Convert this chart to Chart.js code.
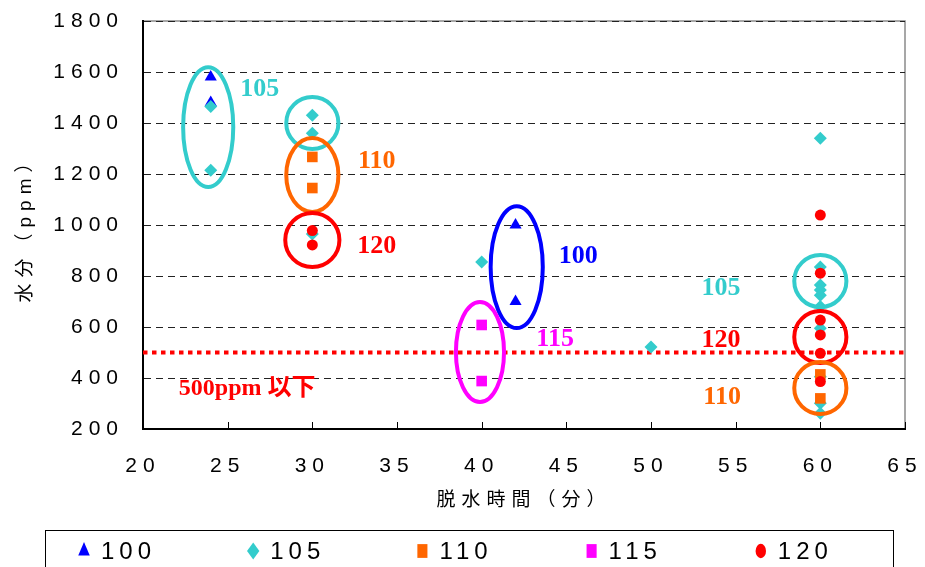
<!DOCTYPE html>
<html>
<head>
<meta charset="utf-8">
<script src="https://cdn.jsdelivr.net/npm/chart.js@4/dist/chart.umd.min.js"></script>
<style>
  html, body { margin: 0; padding: 0; background: #fff; }
  canvas { display: block; }
</style>
</head>
<body>
<canvas id="c" width="925" height="567"></canvas>
<script>
// ---- measured moisture by dehydration temperature series ----
const seriesNames = ['100', '105', '110', '115', '120'];

const x100 = [24, 24, 42, 42];
const y100 = [1580, 1480, 1000, 700];

const x105 = [24, 24, 30, 30, 30, 40, 50, 60, 60, 60, 60, 60, 60, 60, 60, 60, 60];
const y105 = [1465, 1215, 1430, 1360, 965, 855, 522, 1340, 835, 765, 745, 725, 680, 595, 405, 301, 262];

const x110 = [30, 30, 60, 60];
const y110 = [1267, 1145, 414, 320];

const x115 = [40, 40];
const y115 = [608, 388];

const x120 = [30, 30, 60, 60, 60, 60, 60, 60];
const y120 = [978, 922, 1039, 811, 627, 569, 497, 386];

// axis ticks
const xTicks = [20, 25, 30, 35, 40, 45, 50, 55, 60, 65];
const yTicks = [200, 400, 600, 800, 1000, 1200, 1400, 1600, 1800];

// target limit
const limitPpm = 500;
const limitLabel = '500ppm 以下';
const limitLabelX = 26.15;
const limitLabelY = 357;

// rings grouping points of one series (centre and half extents in axis units)
const ringX = [23.85, 30, 30, 30, 42.07, 39.9, 60, 60, 60];
const ringY = [1384, 1400, 1196, 941, 835, 502, 780, 561, 361];
const ringHalfW = [1.48, 1.54, 1.54, 1.6, 1.54, 1.42, 1.54, 1.54, 1.54];
const ringHalfH = [235, 102, 145, 106, 239, 196, 102, 102, 102];
const ringSeries = [1, 1, 2, 4, 0, 3, 1, 4, 2];

// series name tags next to the rings
const tagX = [26.9, 33.8, 33.8, 45.7, 44.34, 54.14, 54.14, 54.2];
const tagY = [1533, 1251, 918, 878, 553, 753, 549, 325];
const tagSeries = [1, 2, 4, 0, 3, 1, 4, 2];

// ---- styles ----
const colors = ['#0000FF', '#33CCCC', '#FF6600', '#FF00FF', '#FF0000'];
const markers = ['triangle', 'rectRot', 'rect', 'rect', 'circle'];
const markerRadius = [7, 6.5, 7.5, 7.5, 5.5];
const sansFamily = '"Liberation Sans", Arial, "Noto Sans CJK JP", sans-serif';
const serifFamily = '"Liberation Serif", "Times New Roman", "Noto Sans CJK JP", serif';
const SPACING = '6px';

const xs = [x100, x105, x110, x115, x120];
const ys = [y100, y105, y110, y115, y120];

const datasets = seriesNames.map((name, i) => ({
  label: name,
  data: xs[i].map((x, k) => ({ x: x, y: ys[i][k] })),
  pointStyle: markers[i],
  pointRadius: markerRadius[i],
  pointHoverRadius: markerRadius[i],
  backgroundColor: colors[i],
  borderColor: colors[i],
  borderWidth: 0,
  showLine: false,
  order: seriesNames.length - i
}));

function setSpacing(ctx, v) {
  if ('letterSpacing' in ctx) ctx.letterSpacing = v;
}

function drawMarker(ctx, style, r, x, y) {
  ctx.beginPath();
  if (style === 'triangle') {
    ctx.moveTo(x, y - r);
    ctx.lineTo(x + r * Math.sin(2 * Math.PI / 3), y + r * 0.5);
    ctx.lineTo(x - r * Math.sin(2 * Math.PI / 3), y + r * 0.5);
    ctx.closePath();
  } else if (style === 'rectRot') {
    ctx.moveTo(x - r, y); ctx.lineTo(x, y - r); ctx.lineTo(x + r, y); ctx.lineTo(x, y + r);
    ctx.closePath();
  } else if (style === 'rect') {
    const s = Math.SQRT1_2 * r;
    ctx.rect(x - s, y - s, 2 * s, 2 * s);
  } else {
    ctx.arc(x, y, r, 0, Math.PI * 2);
  }
  ctx.fill();
}

const decor = {
  id: 'decor',
  beforeUpdate(chart) { setSpacing(chart.ctx, SPACING); },
  beforeLayout(chart) { setSpacing(chart.ctx, SPACING); },
  beforeDraw(chart) {
    const { ctx, chartArea: a } = chart;
    setSpacing(ctx, SPACING);
    // light frame on top and right of the plot
    ctx.save();
    ctx.strokeStyle = '#8a8a8a';
    ctx.lineWidth = 1.5;
    ctx.beginPath();
    ctx.moveTo(a.left, a.top);
    ctx.lineTo(a.right, a.top);
    ctx.lineTo(a.right, a.bottom);
    ctx.stroke();
    ctx.restore();
  },
  beforeDatasetsDraw(chart) {
    const { ctx, chartArea: a, scales: { x, y } } = chart;
    ctx.save();
    // inward tick marks on the time axis
    ctx.strokeStyle = '#000';
    ctx.lineWidth = 1;
    xTicks.forEach(v => {
      const px = Math.round(x.getPixelForValue(v)) + 0.5;
      ctx.beginPath();
      ctx.moveTo(px, a.bottom);
      ctx.lineTo(px, a.bottom - 7);
      ctx.stroke();
    });
    // 500 ppm limit
    const py = y.getPixelForValue(limitPpm);
    ctx.strokeStyle = '#FF0000';
    ctx.lineWidth = 4;
    ctx.setLineDash([4.5, 4.5]);
    ctx.beginPath();
    ctx.moveTo(a.left, py);
    ctx.lineTo(a.right, py);
    ctx.stroke();
    ctx.restore();
  },
  afterDatasetsDraw(chart) {
    const { ctx, scales: { x, y } } = chart;
    ctx.save();
    ctx.lineWidth = 4;
    ringX.forEach((cx, i) => {
      const px = x.getPixelForValue(cx);
      const py = y.getPixelForValue(ringY[i]);
      const rx = Math.abs(x.getPixelForValue(cx + ringHalfW[i]) - px);
      const ry = Math.abs(y.getPixelForValue(ringY[i] + ringHalfH[i]) - py);
      ctx.strokeStyle = colors[ringSeries[i]];
      ctx.beginPath();
      ctx.ellipse(px, py, rx, ry, 0, 0, Math.PI * 2);
      ctx.stroke();
    });
    setSpacing(ctx, '0px');
    ctx.textAlign = 'center';
    ctx.textBaseline = 'middle';
    ctx.font = 'bold 26px ' + serifFamily;
    tagX.forEach((tx, i) => {
      ctx.fillStyle = colors[tagSeries[i]];
      ctx.fillText(seriesNames[tagSeries[i]], x.getPixelForValue(tx), y.getPixelForValue(tagY[i]));
    });
    ctx.font = 'bold 24px ' + serifFamily;
    ctx.fillStyle = '#FF0000';
    ctx.fillText(limitLabel, x.getPixelForValue(limitLabelX), y.getPixelForValue(limitLabelY));
    ctx.restore();
    setSpacing(ctx, SPACING);
  },
  afterDraw(chart) {
    const { ctx } = chart;
    ctx.save();
    // legend frame
    ctx.strokeStyle = '#000';
    ctx.lineWidth = 1;
    ctx.strokeRect(45.5, 530.5, 848, 60);
    const cy = 551;
    ctx.font = '24px ' + sansFamily;
    ctx.textAlign = 'left';
    ctx.textBaseline = 'middle';
    setSpacing(ctx, '5px');
    seriesNames.forEach((name, i) => {
      const mx = 84 + i * 169.2;
      ctx.fillStyle = colors[i];
      ctx.save();
      ctx.translate(mx, cy);
      ctx.scale(0.95, 1.3);
      drawMarker(ctx, markers[i], markerRadius[i], 0, 0);
      ctx.restore();
      ctx.fillStyle = '#000';
      ctx.fillText(name, mx + 17, cy + 1);
    });
    ctx.restore();
    setSpacing(ctx, SPACING);
  }
};

new Chart(document.getElementById('c'), {
  type: 'scatter',
  data: { datasets: datasets },
  plugins: [decor],
  options: {
    responsive: false,
    animation: false,
    events: [],
    layout: { padding: { left: 0, top: 21, right: 20, bottom: 48 } },
    plugins: {
      legend: { display: false },
      tooltip: { enabled: false }
    },
    scales: {
      x: {
        type: 'linear',
        position: 'bottom',
        min: xTicks[0],
        max: xTicks[xTicks.length - 1],
        afterBuildTicks(s) { s.ticks = xTicks.map(v => ({ value: v })); },
        ticks: {
          padding: 25,
          color: '#000',
          maxRotation: 0,
          autoSkip: false,
          callback: v => String(v),
          font: { size: 21, family: sansFamily }
        },
        grid: { drawOnChartArea: false, drawTicks: false },
        border: { color: '#000', width: 2 },
        title: {
          display: true,
          text: '脱水時間（分）',
          color: '#000',
          font: { size: 19, family: sansFamily },
          padding: { top: 0, bottom: 7 }
        },
        afterFit(s) {
          s.height = 90;
          s.paddingLeft = 0;
          s.paddingRight = 0;
        }
      },
      y: {
        type: 'linear',
        min: yTicks[0],
        max: yTicks[yTicks.length - 1],
        afterBuildTicks(s) { s.ticks = yTicks.map(v => ({ value: v })); },
        ticks: {
          padding: 19,
          color: '#000',
          callback: v => String(v),
          font: { size: 21, family: sansFamily }
        },
        grid: { color: '#222', lineWidth: 1, drawTicks: false },
        border: { color: '#000', width: 2, dash: [7, 5] },
        title: {
          display: true,
          text: '水分（ppm）',
          color: '#000',
          font: { size: 19, family: sansFamily },
          padding: { top: 14, bottom: 0 }
        },
        afterFit(s) {
          s.width = 143;
          s.paddingTop = 0;
          s.paddingBottom = 0;
        }
      }
    }
  }
});
</script>
</body>
</html>
